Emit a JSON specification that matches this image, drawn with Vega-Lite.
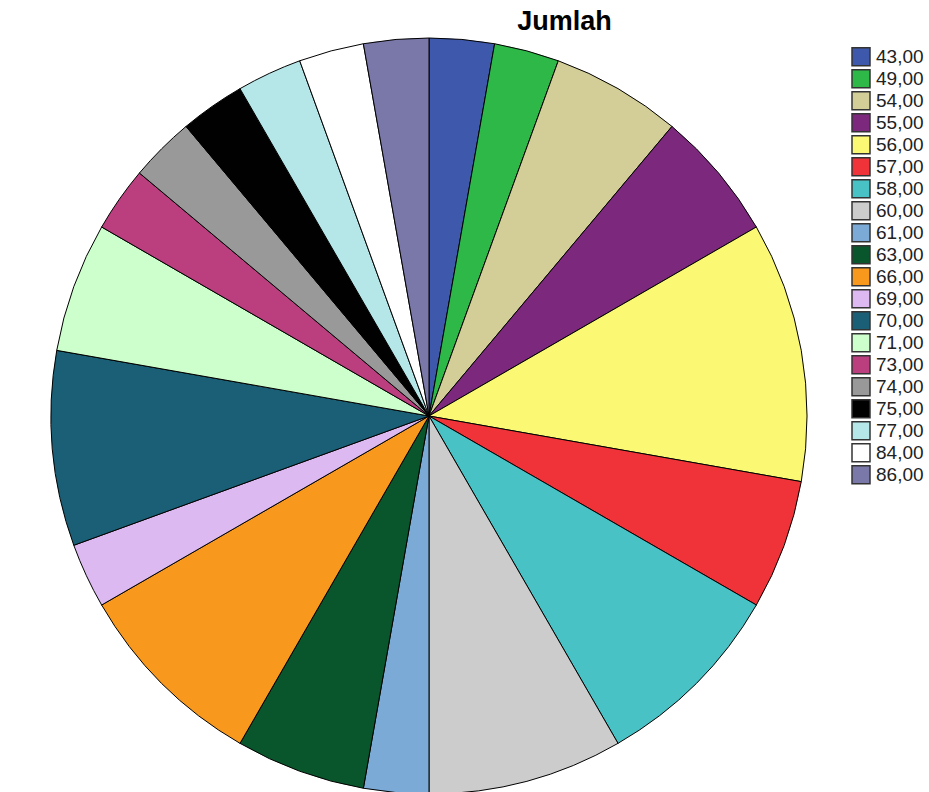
{
  "$schema": "https://vega.github.io/schema/vega-lite/v6.json",
  "width": 929,
  "height": 754,
  "autosize": "none",
  "padding": {"left": 0, "top": 38, "right": 0, "bottom": 0},
  "background": "white",
  "title": {
    "text": "Jumlah",
    "font": "Liberation Sans",
    "fontSize": 27,
    "fontWeight": "bold",
    "color": "#000000",
    "anchor": "middle",
    "dx": 100,
    "offset": 0
  },
  "data": {
    "values": [
      {"jumlah": 43, "label": "43,00", "n": 1},
      {"jumlah": 49, "label": "49,00", "n": 1},
      {"jumlah": 54, "label": "54,00", "n": 2},
      {"jumlah": 55, "label": "55,00", "n": 2},
      {"jumlah": 56, "label": "56,00", "n": 4},
      {"jumlah": 57, "label": "57,00", "n": 2},
      {"jumlah": 58, "label": "58,00", "n": 3},
      {"jumlah": 60, "label": "60,00", "n": 3},
      {"jumlah": 61, "label": "61,00", "n": 1},
      {"jumlah": 63, "label": "63,00", "n": 2},
      {"jumlah": 66, "label": "66,00", "n": 3},
      {"jumlah": 69, "label": "69,00", "n": 1},
      {"jumlah": 70, "label": "70,00", "n": 3},
      {"jumlah": 71, "label": "71,00", "n": 2},
      {"jumlah": 73, "label": "73,00", "n": 1},
      {"jumlah": 74, "label": "74,00", "n": 1},
      {"jumlah": 75, "label": "75,00", "n": 1},
      {"jumlah": 77, "label": "77,00", "n": 1},
      {"jumlah": 84, "label": "84,00", "n": 1},
      {"jumlah": 86, "label": "86,00", "n": 1}
    ]
  },
  "mark": {
    "type": "arc",
    "x": 429,
    "y": 378,
    "outerRadius": 378,
    "stroke": "#000000",
    "strokeWidth": 1
  },
  "encoding": {
    "theta": {"field": "n", "type": "quantitative", "stack": true},
    "order": {"field": "jumlah", "type": "quantitative", "sort": "ascending"},
    "color": {
      "field": "label",
      "type": "nominal",
      "title": null,
      "scale": {
        "domain": ["43,00","49,00","54,00","55,00","56,00","57,00","58,00","60,00","61,00","63,00","66,00","69,00","70,00","71,00","73,00","74,00","75,00","77,00","84,00","86,00"],
        "range": ["#3e58ac","#2eb848","#d3ce97","#7c287d","#fbf873","#ef3338","#48c2c5","#cccccc","#7aaad5","#0a562c","#f8981d","#ddb9f1","#1a5f76","#ccffcc","#bb3f7f","#999999","#010101","#b5e6e8","#ffffff","#7a78a8"]
      },
      "legend": {
        "orient": "none",
        "legendX": 851,
        "legendY": 8,
        "symbolType": "square",
        "symbolSize": 324,
        "symbolStrokeColor": "#333333",
        "symbolStrokeWidth": 1.5,
        "symbolOpacity": 1,
        "labelFont": "Liberation Sans",
        "labelFontSize": 19,
        "labelColor": "#222222",
        "labelOffset": 5,
        "clipHeight": 21.4,
        "rowPadding": -0.3,
        "padding": 0
      }
    }
  }
}
